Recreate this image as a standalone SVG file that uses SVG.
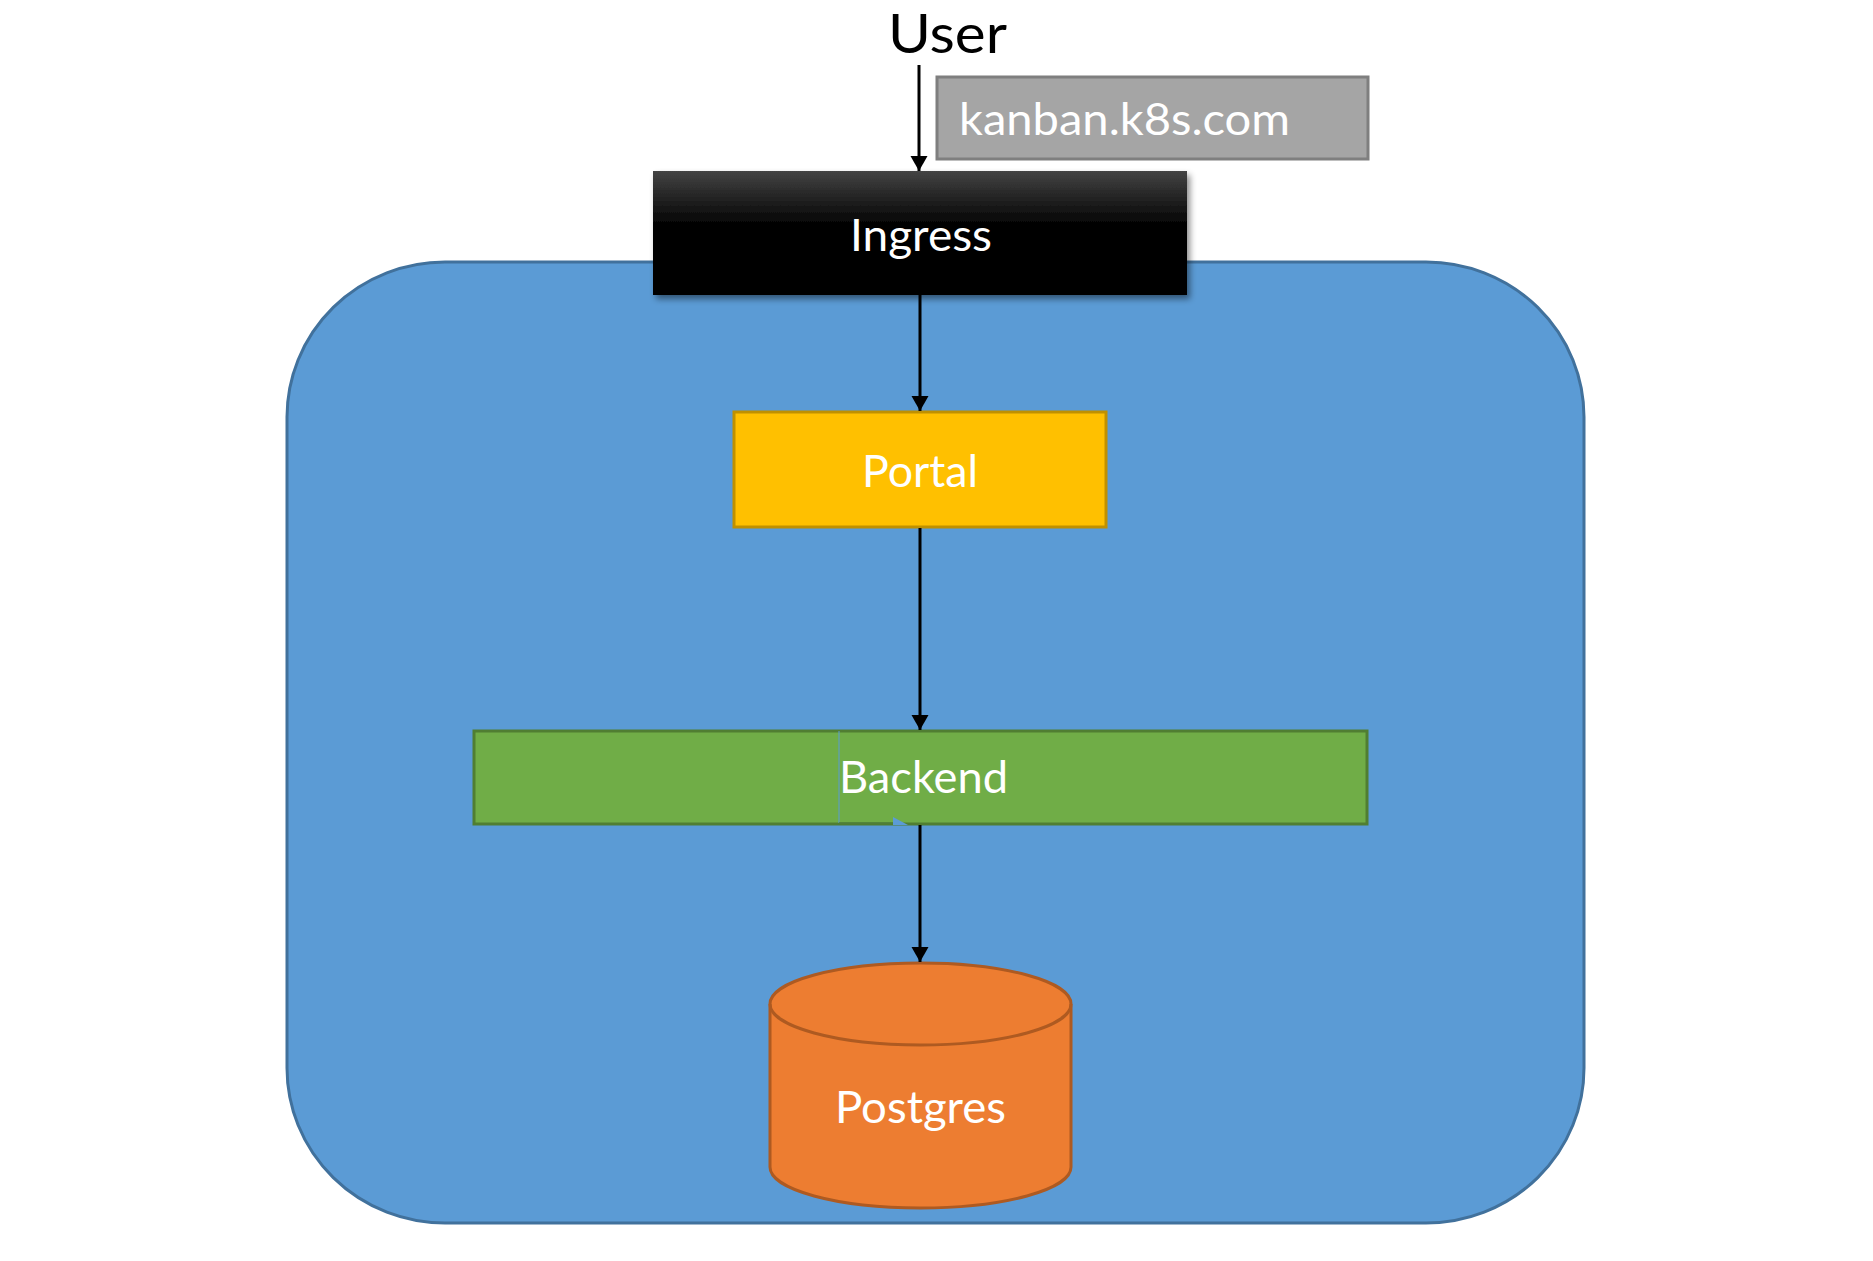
<svg xmlns="http://www.w3.org/2000/svg" width="1873" height="1261" viewBox="0 0 1873 1261">
  <style>
    .lbl { font-family: Lato, "Open Sans", "Liberation Sans", sans-serif; fill: #ffffff; font-size: 45px; }
    .edge { stroke: #000000; stroke-width: 3; fill: none; marker-end: url(#arrow); }
  </style>
  <defs>
    <marker id="arrow" markerUnits="userSpaceOnUse" markerWidth="18" markerHeight="18" refX="15" refY="8.5" orient="auto">
      <path d="M0,0 L15,8.5 L0,17 z" fill="#000000"/>
    </marker>
    <linearGradient id="ingressGrad" x1="0" y1="0" x2="0" y2="1">
      <stop offset="0" stop-color="#444444"/>
      <stop offset="0.45" stop-color="#000000"/>
      <stop offset="1" stop-color="#000000"/>
    </linearGradient>
    <filter id="shadow" x="-10%" y="-20%" width="125%" height="150%">
      <feDropShadow dx="3" dy="4" stdDeviation="3" flood-color="#000000" flood-opacity="0.45"/>
    </filter>
  </defs>
  <rect width="1873" height="1261" fill="#ffffff"/>

  <g id="cluster">
    <rect x="287" y="262" width="1297" height="961" rx="158" ry="155" fill="#5b9bd5" stroke="#41719c" stroke-width="3"/>
  </g>

  <g id="user">
    <text x="888" y="53" font-family="Lato, 'Open Sans', 'Liberation Sans', sans-serif" font-size="54" fill="#000000" textLength="119" lengthAdjust="spacingAndGlyphs">User</text>
  </g>

  <g id="host">
    <rect x="937" y="77" width="431" height="82" fill="#a5a5a5" stroke="#7f7f7f" stroke-width="3"/>
    <text class="lbl" x="959" y="135" textLength="331" lengthAdjust="spacingAndGlyphs" fill="#f8f8f8">kanban.k8s.com</text>
  </g>

  <g id="ingress">
    <rect x="653" y="171" width="534" height="124" fill="url(#ingressGrad)" filter="url(#shadow)"/>
    <text class="lbl" x="850" y="251" textLength="142" lengthAdjust="spacingAndGlyphs">Ingress</text>
  </g>

  <g id="portal">
    <rect x="734" y="412" width="372" height="115" fill="#ffc000" stroke="#bf9000" stroke-width="3"/>
    <text class="lbl" x="862" y="487" textLength="116" lengthAdjust="spacingAndGlyphs">Portal</text>
  </g>

  <g id="backend">
    <rect x="474" y="731" width="893" height="93" fill="#70ad47" stroke="#507e32" stroke-width="3"/>
    <line x1="839" y1="731" x2="839" y2="823" stroke="#5b9bd5" stroke-width="1"/>
    <line x1="839" y1="823" x2="893" y2="823" stroke="#4f7f3a" stroke-width="1.5"/>
    <path d="M893,817 L908,825 L893,825 z" fill="#5b9bd5"/>
    <text class="lbl" x="839" y="793" textLength="169" lengthAdjust="spacingAndGlyphs">Backend</text>
  </g>

  <g id="postgres">
    <path d="M770,1004 L770,1167 A150.5,41 0 0 0 1071,1167 L1071,1004 A150.5,41 0 0 0 770,1004 z" fill="#ed7d31" stroke="#ae5a21" stroke-width="3"/>
    <path d="M770,1004 A150.5,41 0 0 0 1071,1004" fill="none" stroke="#ae5a21" stroke-width="3"/>
    <text class="lbl" x="835" y="1123" textLength="171" lengthAdjust="spacingAndGlyphs">Postgres</text>
  </g>

  <g id="connectors">
    <line class="edge" x1="919" y1="65" x2="919" y2="171"/>
    <line class="edge" x1="920" y1="295" x2="920" y2="411"/>
    <line class="edge" x1="920" y1="528" x2="920" y2="730"/>
    <line class="edge" x1="920" y1="825" x2="920" y2="962"/>
  </g>
</svg>
